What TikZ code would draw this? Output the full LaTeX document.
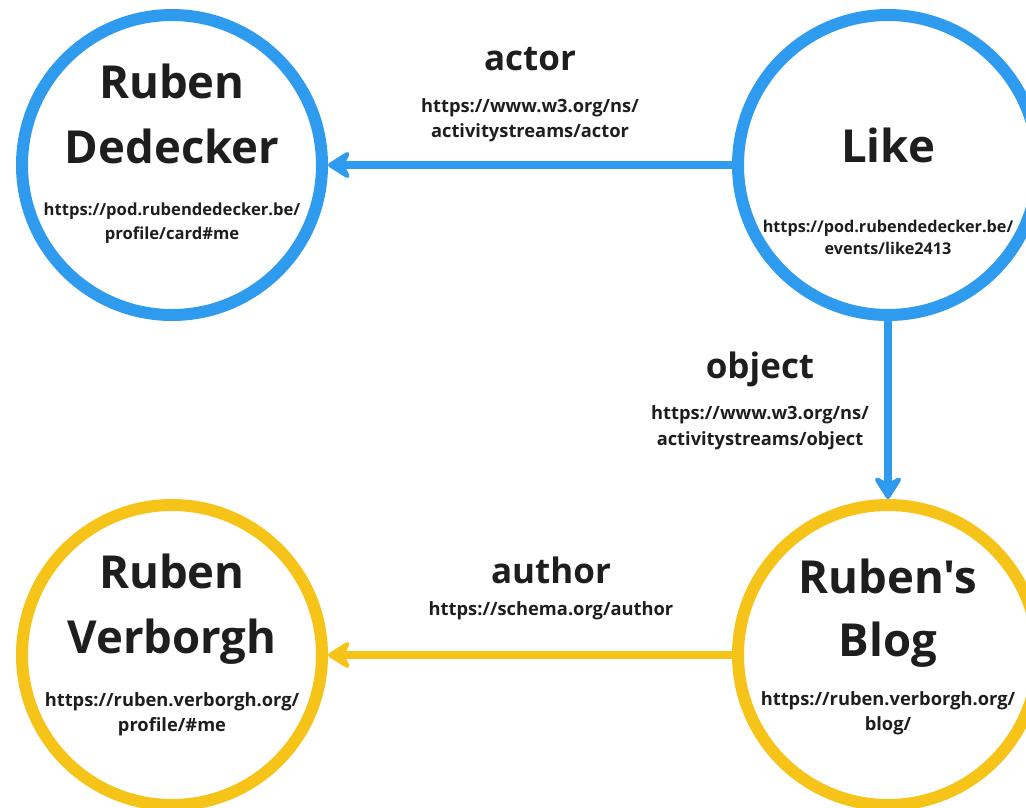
\documentclass[tikz,border=0pt]{standalone}
\usepackage{fontspec}
\setmainfont{Open Sans}[Ligatures=TeXOff]
\usetikzlibrary{arrows.meta}
\definecolor{cblue}{HTML}{2F9BEF}
\definecolor{cyellow}{HTML}{F6C419}
\definecolor{ink}{HTML}{1E1E1E}
\tikzset{
  ring/.style={circle, draw=#1, line width=12pt, minimum size=300pt, inner sep=0pt, fill=white},
  title/.style={anchor=base, inner sep=0pt, text=ink, font=\fontsize{45.5}{50}\selectfont\bfseries},
  lbl/.style={anchor=base, inner sep=0pt, text=ink, font=\fontsize{35}{40}\selectfont\bfseries},
  url/.style={anchor=base, inner sep=0pt, text=ink, font=\fontsize{18.3}{20}\selectfont\bfseries},
  urlsmall/.style={url, font=\fontsize{16.6}{20}\selectfont\bfseries}
}
\tikzset{
  link/.style={draw=#1, line width=8pt, -{Stealth[length=27pt, width=34pt, inset=9pt, round]}}
}
\begin{document}
\begin{tikzpicture}[x=1pt, y=-1pt]
\useasboundingbox (0,0) rectangle (1026,807);
\begin{scope}
\clip (0,0) rectangle (1026,807);
\node[ring=cblue] (ded) at (172,165) {};
\node[ring=cblue] (like) at (888,165) {};
\node[ring=cyellow] (verb) at (172,655) {};
\node[ring=cyellow] (blog) at (888,655) {};

\draw[link=cblue] (like.west) -- (ded.east);
\draw[link=cblue] (like.south) -- (blog.north);
\draw[link=cyellow] (blog.west) -- (verb.east);
\end{scope}

% Ruben Dedecker
\node[title] (d1) at (172,98) {Ruben};
\node[title] (d2) at (172,163) {Dedecker};
\node[urlsmall] (d3) at (172,215) {https://pod.rubendedecker.be/};
\node[urlsmall] (d4) at (172,239) {profile/card\#me};

% Like
\node[urlsmall, font=\fontsize{16.2}{20}\selectfont\bfseries] (l2) at (888,232) {https://pod.rubendedecker.be/};
\node[urlsmall, font=\fontsize{16.2}{20}\selectfont\bfseries] (l3) at (888,254) {events/like2413};
\node[title] (l1) at (888,162) {Like};

% Ruben Verborgh
\node[title] (v1) at (172,588) {Ruben};
\node[title] (v2) at (172,653) {Verborgh};
\node[url] (v3) at (172,706) {https://ruben.verborgh.org/};
\node[url] (v4) at (172,731) {profile/\#me};

% Ruben's Blog
\node[title] (b1) at (888,593) {Ruben's};
\node[title] (b2) at (888,656) {Blog};
\node[url] (b3) at (888,705) {https://ruben.verborgh.org/};
\node[url] (b4) at (888,730) {blog/};

% edge labels
\node[lbl] (a1) at (530,70) {actor};
\node[url] (a2) at (530,112) {https://www.w3.org/ns/};
\node[url] (a3) at (530,137) {activitystreams/actor};

\node[lbl] (o1) at (760,378) {object};
\node[url] (o2) at (760,419) {https://www.w3.org/ns/};
\node[url] (o3) at (760,445) {activitystreams/object};

\node[lbl] (au1) at (551,583) {author};
\node[url] (au2) at (551,615) {https://schema.org/author};
\end{tikzpicture}
\end{document}
